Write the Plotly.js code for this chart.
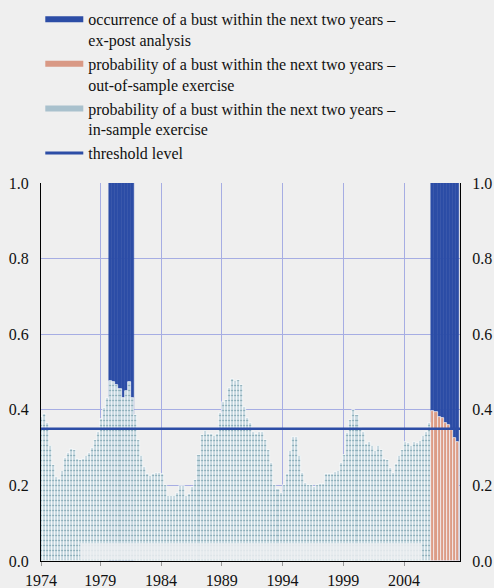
<!DOCTYPE html>
<html><head><meta charset="utf-8">
<script src="https://cdn.plot.ly/plotly-3.0.1.min.js"></script>
<style>
html,body{margin:0;padding:0;background:#efefef;}
#chart{width:494px;height:588px;}
#chart svg text{font-family:'Liberation Serif','Times New Roman',serif !important;}
</style>
</head><body><div id="chart"></div>
<script>
// quarterly data, first quarter = 1974Q1
const firstYear = 1974;
const inSample = [
 0.382,0.389,0.366,0.303,0.253,0.222,0.216,0.239,0.272,0.285,
 0.296,0.293,0.271,0.268,0.270,0.278,0.286,0.300,0.319,0.342,
 0.376,0.406,0.430,0.477,0.474,0.465,0.455,0.432,0.450,0.474,
 0.430,0.386,0.320,0.278,0.249,0.230,0.226,0.230,0.233,0.233,
 0.231,0.200,0.172,0.171,0.171,0.180,0.198,0.198,0.173,0.177,
 0.195,0.214,0.280,0.333,0.345,0.336,0.335,0.330,0.335,0.392,
 0.421,0.426,0.457,0.481,0.477,0.479,0.465,0.408,0.377,0.366,
 0.342,0.335,0.342,0.342,0.320,0.293,0.258,0.200,0.190,0.180,
 0.200,0.230,0.292,0.327,0.328,0.278,0.233,0.207,0.200,0.200,
 0.195,0.200,0.203,0.205,0.230,0.230,0.230,0.235,0.237,0.260,
 0.280,0.338,0.373,0.400,0.386,0.353,0.340,0.310,0.315,0.305,
 0.290,0.305,0.293,0.271,0.268,0.245,0.232,0.256,0.278,0.293,
 0.315,0.313,0.304,0.315,0.313,0.318,0.330,0.342,0.364
];
const outOfSample = [0.397,0.395,0.381,0.378,0.366,0.360,0.346,0.325,0.316];
const bustStart = ['1979Q4','2006Q2'];
const bustEnd   = ['1981Q3','2008Q2'];
const threshold = 0.35;
const yearTicks = [1974,1979,1984,1989,1994,1999,2004];
const yTicks = [0,0.2,0.4,0.6,0.8,1.0];
const names = [
 'occurrence of a bust within the next two years –<br>ex-post analysis',
 'probability of a bust within the next two years –<br>out-of-sample exercise',
 'probability of a bust within the next two years –<br>in-sample exercise',
 'threshold level'
];

const qx = i => firstYear + 0.125 + 0.25*i;
const labelX = s => { const y=+s.slice(0,4), q=+s.slice(5); return y + (q-1)*0.25 + 0.125; };
const inX = inSample.map((v,i)=>qx(i));
const outX = outOfSample.map((v,i)=>qx(inSample.length+i));
const bustX = [], bustY = [];
bustStart.forEach((s,k)=>{ for(let x=labelX(s); x<=labelX(bustEnd[k])+1e-9; x+=0.25){ bustX.push(x); bustY.push(1); } });
const lastX = outX[outX.length-1];
const xRange = [qx(0), lastX + 0.225];

const BLUE = '#2c4da6';
const mkFont = () => ({family:'Liberation Serif', size:16, color:'#111111'});

const traces = [
 {type:'bar', x:bustX, y:bustY, marker:{color:BLUE, line:{color:BLUE, width:0.5}}, showlegend:false, hoverinfo:'skip'},
 {type:'bar', x:inX, y:inSample, showlegend:false,
  marker:{color:'#c8d9e1', line:{color:'#ffffff', width:0.7},
          pattern:{shape:'-', fillmode:'overlay', fgcolor:'#4f8593', size:5, solidity:0.25}}},
 {type:'bar', x:outX, y:outOfSample, showlegend:false,
  marker:{color:'#dc9c86', line:{color:'#ffffff', width:0.7}}},
 {type:'scatter', mode:'lines', x:xRange, y:[threshold,threshold], line:{color:BLUE, width:2.5}, showlegend:false},
 {type:'scatter', mode:'lines', x:[null], y:[null], yaxis:'y2', name:names[0], line:{color:BLUE, width:6}, legendrank:1},
 {type:'scatter', mode:'lines', x:[null], y:[null], yaxis:'y2', name:names[1], line:{color:'#d99985', width:6}, legendrank:2},
 {type:'scatter', mode:'lines', x:[null], y:[null], yaxis:'y2', name:names[2], line:{color:'#a9c1cd', width:6}, legendrank:3},
 {type:'scatter', mode:'lines', x:[null], y:[null], yaxis:'y2', name:names[3], line:{color:BLUE, width:3}, legendrank:4}
];

const layout = {
 width:494, height:588,
 margin:{l:41, r:34, t:183, b:27, pad:0, autoexpand:false},
 paper_bgcolor:'#efefef', plot_bgcolor:'#efefef',
 font:mkFont(),
 barmode:'overlay', bargap:0,
 showlegend:true,
 legend:{x:-0.0017, y:1.478, xanchor:'left', yanchor:'top', valign:'top', bgcolor:'rgba(0,0,0,0)',
         font:mkFont(), traceorder:'normal', itemwidth:38},
 xaxis:{range:xRange, tickvals:yearTicks.map(y=>Math.max(y, xRange[0])), ticktext:yearTicks.map(String),
        showgrid:true, gridcolor:'#a6ade3', gridwidth:1, zeroline:false,
        showline:true, linecolor:'#000', linewidth:1,
        ticks:'outside', ticklen:4, tickcolor:'#999', ticklabelstandoff:1, tickfont:mkFont()},
 yaxis:{range:[0,1], tickvals:yTicks, tickformat:'.1f', showgrid:true, gridcolor:'#a6ade3', gridwidth:1,
        zeroline:false, showline:true, linecolor:'#000', linewidth:1, ticks:'', ticklabelstandoff:8, tickfont:mkFont()},
 yaxis2:{range:[0,1], overlaying:'y', side:'right', tickvals:yTicks, tickformat:'.1f', showgrid:false,
         zeroline:false, showline:true, linecolor:'#000', linewidth:1, ticks:'', ticklabelstandoff:8, tickfont:mkFont()},
 shapes:[{type:'rect', xref:'x', yref:'y', x0:1977.35, x1:2005.45, y0:0.003, y1:0.047,
          fillcolor:'rgba(236,238,241,0.85)', line:{width:0}, layer:'above'}]
};

Plotly.newPlot('chart', traces, layout, {displayModeBar:false}).then(gd =>
  Plotly.relayout(gd, {font: mkFont(), 'legend.font': mkFont(),
    'xaxis.tickfont': mkFont(), 'yaxis.tickfont': mkFont(), 'yaxis2.tickfont': mkFont()}));
</script>
</body></html>
